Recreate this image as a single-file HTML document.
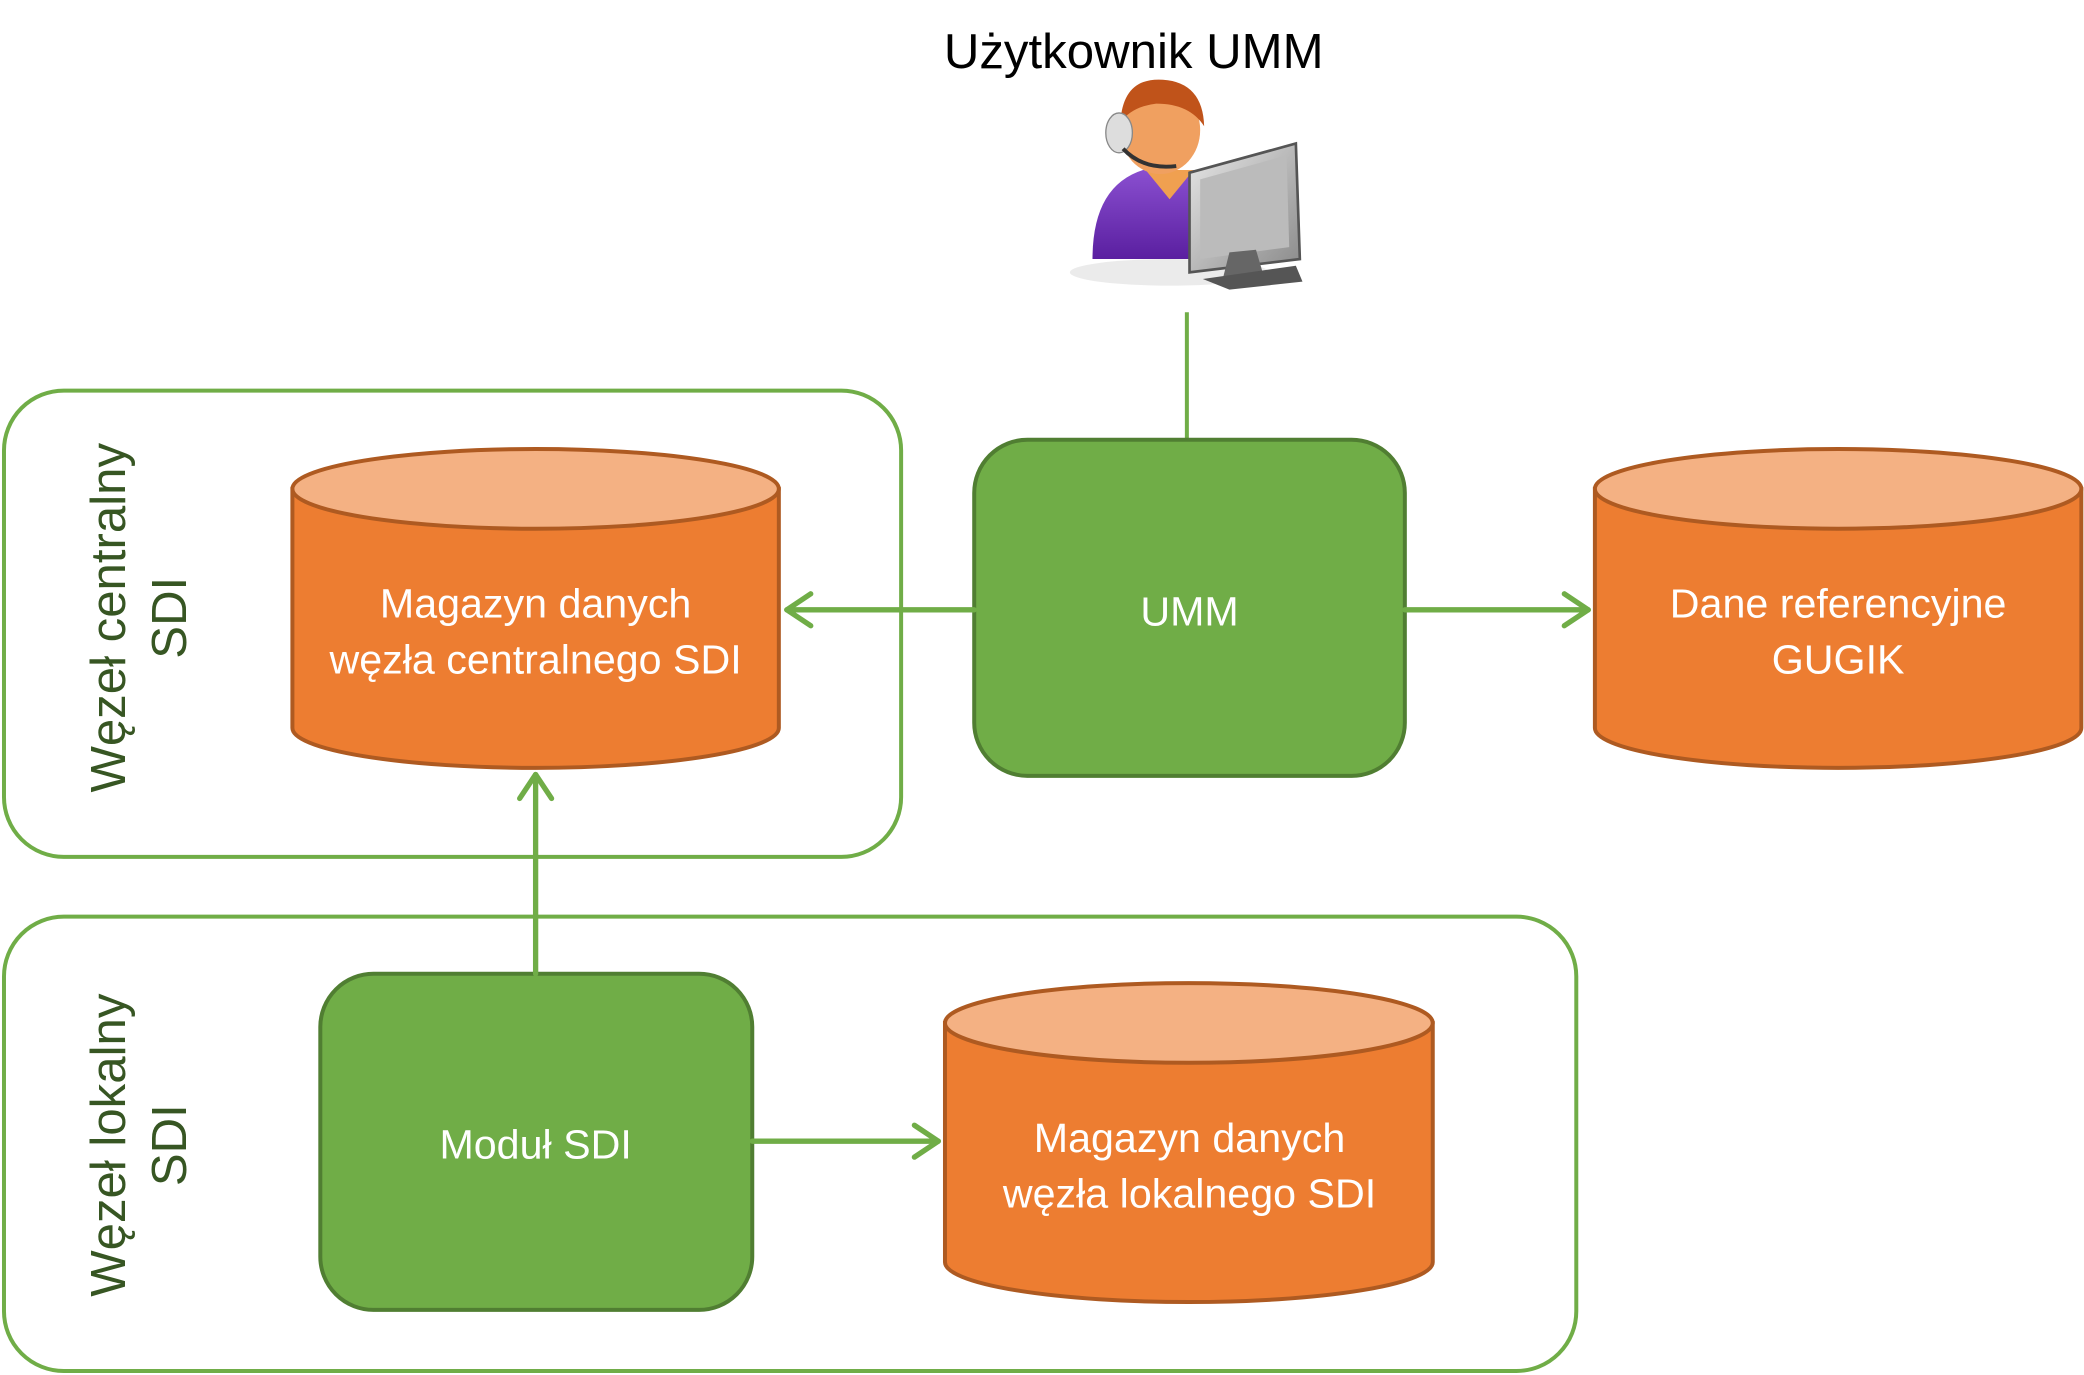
<!DOCTYPE html>
<html><head><meta charset="utf-8"><style>
html,body{margin:0;padding:0;background:#fff;}
svg{display:block;}
text{font-family:"Liberation Sans",sans-serif;}
</style></head><body>
<svg width="2084" height="1375" viewBox="0 0 1568 1035" preserveAspectRatio="none" xmlns="http://www.w3.org/2000/svg">
<defs>
<linearGradient id="pg" x1="0" y1="0" x2="0" y2="1"><stop offset="0" stop-color="#8a4fd0"/><stop offset="1" stop-color="#5a1fa0"/></linearGradient>
<linearGradient id="mg" x1="0" y1="0" x2="1" y2="1"><stop offset="0" stop-color="#e8e8e8"/><stop offset="1" stop-color="#8a8a8a"/></linearGradient>
</defs>
<text x="853" y="51" font-size="37" text-anchor="middle" fill="#000">Użytkownik UMM</text>
<g>
<ellipse cx="880" cy="205" rx="75" ry="10" fill="#ddd" opacity="0.6"/>
<path d="M822 195 Q822 140 860 128 L905 128 Q930 140 932 195 Z" fill="url(#pg)"/>
<path d="M862 128 L880 150 L898 128 Z" fill="#f0a050"/>
<ellipse cx="873" cy="98" rx="30" ry="33" fill="#f0a060"/>
<path d="M843 92 Q845 58 875 60 Q905 62 906 95 Q895 78 870 78 Q852 80 843 92 Z" fill="#c0531a"/>
<ellipse cx="842" cy="100" rx="10" ry="15" fill="#ddd" stroke="#888"/>
<path d="M845 112 Q860 128 885 125" stroke="#333" stroke-width="3" fill="none"/>
<path d="M895 130 L975 108 L978 195 L895 205 Z" fill="url(#mg)" stroke="#555" stroke-width="2"/>
<path d="M903 135 L968 117 L970 186 L903 195 Z" fill="#bbb"/>
<path d="M925 190 L945 188 L950 205 L920 210 Z" fill="#666"/>
<path d="M905 210 L975 200 L980 212 L925 218 Z" fill="#555"/>
</g>
<line x1="893" y1="235" x2="893" y2="331" stroke="#70ad47" stroke-width="3"/>
<rect x="3" y="294" width="675" height="351" rx="45" fill="none" stroke="#70ad47" stroke-width="3"/>
<rect x="3" y="690" width="1183" height="342" rx="45" fill="none" stroke="#70ad47" stroke-width="3"/>
<g fill="#375623" font-size="37" text-anchor="middle">
<text transform="translate(100,465) rotate(-90)"><tspan x="0" y="-6">Węzeł centralny</tspan><tspan x="0" y="40">SDI</tspan></text>
<text transform="translate(100,862) rotate(-90)"><tspan x="0" y="-6">Węzeł lokalny</tspan><tspan x="0" y="40">SDI</tspan></text>
</g>
<g stroke="#ae5a21" stroke-width="3">
<path d="M220 368 L220 548 A183 30 0 0 0 586 548 L586 368 Z" fill="#ed7d31"/>
<ellipse cx="403" cy="368" rx="183" ry="30" fill="#f4b183"/>
<path d="M1200 368 L1200 548 A183 30 0 0 0 1566 548 L1566 368 Z" fill="#ed7d31"/>
<ellipse cx="1383" cy="368" rx="183" ry="30" fill="#f4b183"/>
<path d="M711 770 L711 950 A183 30 0 0 0 1078 950 L1078 770 Z" fill="#ed7d31"/>
<ellipse cx="894.5" cy="770" rx="183.5" ry="30" fill="#f4b183"/>
</g>
<rect x="733" y="331" width="324" height="253" rx="40" fill="#70ad47" stroke="#507e32" stroke-width="3"/>
<rect x="241" y="733" width="325" height="253" rx="40" fill="#70ad47" stroke="#507e32" stroke-width="3"/>
<g fill="#fff" font-size="31" text-anchor="middle">
<text x="403" y="465">Magazyn danych</text><text x="403" y="507">węzła centralnego SDI</text>
<text x="1383" y="465">Dane referencyjne</text><text x="1383" y="507">GUGIK</text>
<text x="895" y="867">Magazyn danych</text><text x="895" y="909">węzła lokalnego SDI</text>
<text x="895" y="471">UMM</text>
<text x="403" y="872">Moduł SDI</text>
</g>
<g stroke="#70ad47" stroke-width="4" fill="none" stroke-linecap="round" stroke-linejoin="round">
<line x1="733" y1="459" x2="592" y2="459"/><polyline points="610,447 592,459 610,471"/>
<line x1="1057" y1="459" x2="1195" y2="459"/><polyline points="1177,447 1195,459 1177,471"/>
<line x1="403" y1="733" x2="403" y2="583"/><polyline points="391,601 403,583 415,601"/>
<line x1="566" y1="859" x2="706" y2="859"/><polyline points="688,847 706,859 688,871"/>
</g>
</svg>
</body></html>
